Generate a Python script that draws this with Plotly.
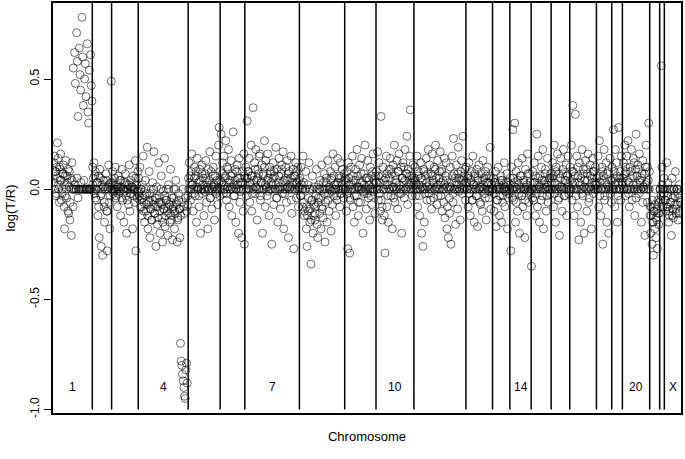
import numpy as np
import plotly.graph_objects as go

# log(T/R) per clone, in hundredths
chr1 = [6, 12, 15, 8, -3, 10, 21, 14, 2, -6,
        9, 16, 4, -2, 7, 11, -8, -18, 6, 13,
        -4, 3, -10, -11, 8, -14, 5, -21, 12, 0,
        55, 0, 62, 48, 0, 71, 58, 33, 0, 64,
        52, 45, 0, 78, 60, 38, 4, 50, 57, 42,
        0, 66, 35, 30, 54, 0, 61, 47, 40]
chr2 = [10, 5, 12, -2, 8, 0, -5, 3, -12, 6,
        -22, 9, -3, -26, 2, -30, 4, -8, -15, 0,
        7, -10, -28, 1, 11, -6, -18, 3, 49]
chr3 = [3, 8, -2, 0, 5, 10, -4, 2, -8, 0,
        6, -1, 4, -12, 1, 9, -5, 0, -15, 3,
        7, -3, -20, 2, 0, -7, 11, -10, 4, -2,
        1, -18, 6, 0, -6, 13, -28, 2, -4, 8]
chr4 = [5, -3, 10, -8, 0, -12, 2, 15, -6, -15,
        4, -10, -2, 19, -18, -5, 8, -22, -9, 0,
        -14, 3, -7, 17, -11, -4, -26, 1, -16, -8,
        12, -3, -20, -6, 6, -13, -24, -1, -9, 14,
        -17, -5, 0, -10, -21, 2, -7, -15, 9, -12,
        -4, -23, -8, 0, -18, -11, 4, -6, -24, -14,
        -2, -9, -22, -70, -78, -80, -84, -87, -90, -94,
        -95, -82, -79, -88, -3]
chr5 = [5, 12, 0, -5, 8, 16, 2, -10, 0, 10,
        -3, 6, -15, 14, 0, 3, -8, 9, -20, 0,
        11, -2, 5, -12, 0, 7, 13, -6, 1, -18,
        0, 4, 17, -4, 8, -9, 0, 10, 2, -14,
        6, 15, -1, 0, -7, 20, 28, -3]
chr6 = [8, 25, 3, 12, -2, 15, 0, 6, 22, -5,
        10, 1, 18, -8, 4, 0, 13, -12, 7, 26,
        2, -3, 9, -15, 0, 11, 5, -20, 14, -6,
        3, 0, -22, 8, -10, 16, -25]
chr7 = [5, 10, -3, 31, 0, 8, 14, -6, 2, 20,
        -10, 6, 37, 0, 12, -2, 18, 4, -14, 9,
        0, 15, 16, -5, 3, 11, -20, 7, 0, 22,
        -8, 13, 1, -3, 16, 5, -12, 10, 0, 8,
        -25, 2, 12, -7, 6, 0, 19, -4, 9, -15,
        3, 14, 0, -9, 7, 11, -2, 17, -18, 4,
        0, 10, -6, 13, 1, -22, 8, 0, 5, 15,
        -11, 2, 9, -27, 0, 6, 12, -4, 3, 10,
        -8, 1]
chr8 = [5, -3, 10, 0, -8, 15, 3, -12, 0, 8,
        -18, -26, 2, -10, 12, -15, 0, -34, -5, 6,
        -20, -12, 1, -14, -8, 9, -16, -22, -4, 0,
        -11, 4, -18, 11, -9, -13, 0, 7, -24, -6,
        3, -15, 13, -2, -10, 0, 8, -19, 5, -7,
        16, -3, 0, 10, -12, 2, -5, 14, 0, 6,
        -8, 12, 3, -2, 9, 0, -4, 7]
chr9 = [5, 0, -10, 8, -27, 12, 2, -29, -5, 10,
        0, 15, -8, 4, -15, 0, 9, -3, 18, 6,
        -12, 1, 11, -6, 0, 14, 3, -20, 7, -2,
        20, 0, -9, 5, 13, -4, 2, -14, 10, 0,
        -7, 8, 16, -1, 4, -11, 6]
chr10 = [8, 0, 17, -5, 12, 3, -10, 33, 6, -14,
         10, 0, -12, -29, 5, 15, -8, 2, -15, 9,
         0, 14, -3, 7, -18, 11, 1, 20, -6, 4,
         0, 13, -9, 8, 16, -2, 0, 10, -20, 5,
         12, 3, -4, 18, 0, 7, 24, -7, 9, 2,
         15, 36, 0, 6, -3, 11, 4]
chr11 = [5, 10, -3, 0, 15, -8, 8, 2, -12, 0,
         12, -20, 4, -26, 9, -15, 0, 6, 14, -5,
         1, 18, -2, 11, 0, 7, -9, 16, 3, -4,
         10, 0, 20, 5, -7, 13, 2, 0, 8, 17,
         -3, 9, -10, 4, 0, 14, -13, 6, 12, -18,
         1, -22, 0, -11, 10, -25, 3, 15, -6, 23,
         7, 0, -16, 11, 2, -9, 19, 5, 0, -14,
         8, 13, -2, 24, 4, 0, 9, -5]
chr12 = [10, 0, 5, -8, 12, 3, -12, 0, 8, -5,
         15, 2, -15, 6, 0, -3, 9, -17, 4, 11,
         0, -6, 7, 1, -10, 13, 0, 5, -2, 8,
         -14, 3, 10, 0, -4, 6, 19, -9, 2, 0]
chr13 = [0, 5, -10, 3, 8, -17, 0, -5, 10, 2,
         -12, 0, 6, -15, 4, -3, 0, 12, -8, 1,
         0, 7, -18, 3, -2, 0]
chr14 = [5, -28, 10, 0, 27, -5, 3, 30, -15, 8,
         0, -10, 12, 2, -20, 6, 0, -3, 14, -8,
         4, 0, -22, 9, 1, -12, 16, 0, -6, 7,
         3, -2]
chr15 = [-35, 0, 8, -5, 12, 3, -12, 0, 25, -8,
         15, 2, -15, 6, 0, 10, -3, 18, -18, 4,
         0, 9, -10, 1, 14, -6, 0, 5, -2, 7]
chr16 = [5, 0, 12, -8, 20, 3, -15, 10, 0, 16,
         -5, 7, -21, 1, 14, 0, -10, 9, 18, -3,
         4, 0, 11, -12, 6, 15, -2, 0]
chr17 = [10, 0, 20, -5, 38, 8, -12, 3, 34, 0,
         15, -8, 6, -23, 12, 2, -15, 0, 18, -3,
         9, -20, 4, 13, 0, -10, 7, 16, -6, 1,
         11, 0, -18, 5, 14, -2, 8, 0, 10, 3]
chr18 = [5, 0, 15, -8, 22, 3, -12, 0, 10, -25,
         6, 18, -3, 0, 12, -15, 2, 8, -20, 0,
         14, 4, -6]
chr19 = [10, 0, 27, 5, -8, 18, 0, 12, -15, 3, 28, 0, 8, -5, 15, 2]
chr20 = [5, 12, 0, 20, -3, 8, 15, 0, 22, 3,
         -8, 10, 0, 18, -5, 6, 14, 0, -12, 9,
         25, 2, 0, 11, -2, 16, 4, 0, -15, 7,
         13, 1, 0, -21, 10, 20, 3, -6, 0, 30,
         8]
chr21 = [-12, -20, -8, -25, -15, -30, -10, -18, 0, -22, -14, -27, -5, -16, -11]
chr22 = [0, -5, 56, 10, -8, 0, 5]
chrX = [0, -5, -10, 12, -8, 3, -15, -12, 0, -6,
        -21, 5, -9, -13, 0, -3, 8, -11, -7, 0,
        -14, -4, 2, -10, -6]

# second batch of clones: the dense core band near zero (hundredths)
core1 = [3, 0, 8, -2, 5, 0, 10, 4, -5, 0,
         7, 2, -3, 0, 6, 9, 1, -6, 0, 4,
         -8, 0, 2, 0, 5, -4, 0, 0, 3, 0,
         0, 0, 0, 0, 0, 0, 0, 0, 0, 0]
core2 = [2, 0, 6, -4, 0, 3, -8, 0, 5, -2,
         0, 1, -6, 0, 4, -10, 0, 2, -3, 0]
core3 = [0, 2, -1, 0, -3, 0, 1, -2, 0, 4,
         -4, 0, 0, -1, 3, 0, -5, 0, 2, -2,
         0, 1, 0, -3, 0, 5, -1, 0]
core4 = [-2, -5, 0, -8, -4, -10, -3, 0, -7, -12,
         -6, -2, -9, -14, -5, 0, -11, -8, -4, -13,
         -6, -10, 0, -7, -15, -9, -3, -12, -5, -8,
         0, -11, -6, -14, -9, -4, -10, 0, -7, -13,
         -5, -9, -12, -6, 0, -8, -11, -4, -10, -7]
core5 = [0, 3, 6, 0, 2, -2, 5, 0, 8, 1,
         0, -3, 4, 0, 7, 2, 0, -1, 5, 0,
         3, 9, 0, -4, 2, 0, 6, 1, 0, -2,
         4, 0, 3, 0]
core6 = [4, 0, 7, 2, 0, 5, -2, 0, 9, 3,
         0, 6, 1, 0, -3, 4, 0, 8, 2, 0,
         5, -1, 0, 3, 0, 6]
core7 = [2, 0, 5, 8, 0, 3, 6, -2, 0, 4,
         9, 1, 0, 5, 7, 0, -3, 3, 0, 6,
         10, 2, 0, 4, -1, 0, 7, 3, 0, 5,
         8, 0, 2, -4, 0, 6, 1, 0, 9, 3,
         0, -2, 5, 0, 4, 7, 0, 1, -5, 0,
         3, 6, 0, 2, 8, 0, 4]
core8 = [0, -3, 2, 0, -6, -10, 0, -8, -12, -4,
         0, -9, -14, -5, 0, -7, -11, -3, 0, -6,
         2, 0, -4, -8, 0, 3, -2, 0, 5, 0,
         -5, 1, 0, 4, -1, 0, 6, 2, 0, -3,
         3, 0, 5, -2, 0, 2, 0, 4]
core9 = [0, 3, -2, 0, 5, -4, 0, 2, 6, 0,
         -3, 4, 0, 1, -6, 0, 3, 7, 0, -1,
         2, 0, 5, -2, 0, 4, 0, -3, 6, 0,
         2, 0, 3]
core10 = [3, 0, 6, -2, 0, -5, -8, 0, 4, 2,
          0, 7, -3, 0, 5, 9, 0, 1, -4, 0,
          6, 3, 0, 8, 2, 0, -2, 5, 0, 10,
          4, 0, 7, 1, 0, 6, 3, 0, 5, 2]
core11 = [0, 4, 2, 0, 6, -3, 0, 5, 1, 0,
          8, -2, 0, 3, 7, 0, 2, -5, 0, 6,
          4, 0, 9, 1, 0, -3, 5, 0, 3, 8,
          0, -6, 2, 0, 4, -8, 0, -4, 1, 0,
          6, -2, 0, 5, 3, 0, 7, -1, 0, 4,
          2, 0, 6, 0, 3]
core12 = [3, 0, 6, -2, 0, 4, -5, 0, 2, 7,
          0, -3, 5, 0, 1, -7, 0, 4, 2, 0,
          -4, 6, 0, 3, -1, 0, 5, 0]
core13 = [0, -2, 3, 0, -5, 1, 0, -3, 4, 0,
          -6, 2, 0, -1, 3, 0, -4, 0]
core14 = [2, 0, -4, 5, 0, 1, -6, 0, 4, -2,
          0, 6, -3, 0, 3, -5, 0, 2, 7, 0,
          -1, 0]
core15 = [0, -4, 3, 0, 6, -2, 0, 5, 1, 0,
          -5, 4, 0, 2, 7, 0, -3, 3, 0, 5,
          0]
core16 = [3, 0, 6, -2, 0, 8, 2, 0, -4, 5,
          0, 1, 7, 0, -3, 4, 0, 6, 2, 0]
core17 = [4, 0, 8, 2, 0, 6, -3, 0, 10, 3,
          0, 5, -2, 0, 7, 1, 0, 9, 4, 0,
          -4, 6, 0, 3, 8, 0, 2, 0]
core18 = [2, 0, 6, -3, 0, 4, 8, 0, -5, 3,
          0, 7, 1, 0, -2, 0]
core19 = [4, 0, 8, 2, 0, 6, -3, 0, 5, 0, 3]
core20 = [3, 0, 7, 10, 0, 4, -2, 0, 8, 5,
          0, 2, 12, 0, -4, 6, 0, 9, 3, 0,
          5, -6, 0, 7, 2, 0, 10, 4, 0]
core21 = [-8, -12, -5, -15, -10, -7, -13, -9, -11, -6]
core22 = [0, -3, 2, 0, -2]
coreX = [-5, 0, -8, -3, 0, -10, -6, 0, -12, -4,
         0, -7, -9, 0, -2, -11, 0, -6]

chrom_names = [str(i) for i in range(1, 23)] + ["X"]
chrom_data = [chr1, chr2, chr3, chr4, chr5, chr6, chr7, chr8, chr9, chr10,
              chr11, chr12, chr13, chr14, chr15, chr16, chr17, chr18, chr19,
              chr20, chr21, chr22, chrX]
core_data = [core1, core2, core3, core4, core5, core6, core7, core8, core9, core10,
             core11, core12, core13, core14, core15, core16, core17, core18, core19,
             core20, core21, core22, coreX]
shown_labels = ["1", "4", "7", "10", "14", "20", "X"]

counts = np.array([len(v) for v in chrom_data])
ends = np.cumsum(counts)
starts = ends - counts

xs, ys = [], []
for s, n, main, core in zip(starts, counts, chrom_data, core_data):
    xs.append(s + 1 + np.arange(n))
    ys.append(np.array(main, dtype=float) / 100)
    m = len(core)
    xs.append(s + 0.5 + (np.arange(m) + 0.5) * n / m)
    ys.append(np.array(core, dtype=float) / 100)
x = np.concatenate(xs)
y = np.concatenate(ys)
n_total = int(ends[-1])

fig = go.Figure()
fig.add_trace(go.Scatter(
    x=x, y=y, mode="markers",
    marker=dict(symbol="circle-open", size=8, color="rgba(0,0,0,0.8)",
                line=dict(width=0.7)),
    showlegend=False,
))

ymin, ymax = -1.016, 0.845
for b in ends[:-1]:
    fig.add_shape(type="line", xref="x", yref="y", x0=b + 0.5, x1=b + 0.5,
                  y0=-1.0, y1=ymax, line=dict(color="black", width=1.5),
                  layer="above")

for name, s, e in zip(chrom_names, starts, ends):
    if name in shown_labels:
        fig.add_annotation(x=(s + e) / 2 + 0.5, y=-0.9, text=name, showarrow=False,
                           font=dict(size=12, color="black"))

font = "Liberation Sans, Arial, sans-serif"
fig.update_layout(
    width=685, height=459,
    margin=dict(l=53, r=4, t=1, b=46),
    plot_bgcolor="white", paper_bgcolor="white",
    font=dict(family=font, size=12, color="black"),
    xaxis=dict(range=[0.5, n_total + 0.5], showgrid=False, zeroline=False,
               showticklabels=False, ticks="", showline=True, mirror=True,
               linecolor="black", linewidth=1.5,
               title=dict(text="Chromosome", font=dict(size=13), standoff=18)),
    yaxis=dict(range=[ymin, ymax], showgrid=False, zeroline=False,
               tickvals=[-1.0, -0.5, 0.0, 0.5], ticktext=["-1.0", "-0.5", "0.0", "0.5"],
               ticks="outside", ticklen=7, tickcolor="black", tickangle=-90,
               showline=True, mirror=True, linecolor="black", linewidth=1.5,
               title=dict(text="log(T/R)", font=dict(size=13), standoff=10)),
)

fig.write_html("out.html", config={"displayModeBar": False},
               post_script="document.body.style.margin='0';")
